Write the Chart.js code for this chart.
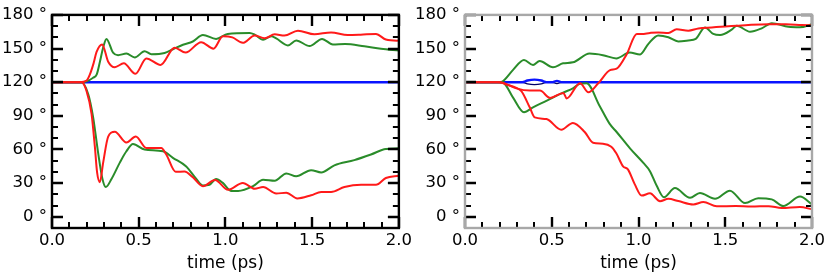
<!DOCTYPE html>
<html>
<head>
<meta charset="utf-8">
<script src="https://cdn.jsdelivr.net/npm/chart.js@4.4.1/dist/chart.umd.min.js"></script>
<style>
  html, body { margin: 0; padding: 0; background: #fff; }
  #wrap { position: relative; width: 830px; height: 277px; overflow: hidden; }
  .panel { position: absolute; top: 0; width: 415px; height: 277px; }
</style>
</head>
<body>
<div id="wrap">
  <div class="panel" style="left:0"><canvas id="c1" width="415" height="277"></canvas></div>
  <div class="panel" style="left:415px"><canvas id="c2" width="415" height="277"></canvas></div>
</div>
<script>
// ---------- tick labels / tick positions ----------
const xLabelTicks = [0, 0.5, 1.0, 1.5, 2.0];
const xMinorTicks = [0.1, 0.2, 0.3, 0.4, 0.6, 0.7, 0.8, 0.9, 1.1, 1.2, 1.3, 1.4, 1.6, 1.7, 1.8, 1.9];
const yLabelTicks = [0, 30, 60, 90, 120, 150, 180];
const yMinorTicks = [-10, 10, 20, 40, 50, 70, 80, 100, 110, 130, 140, 160, 170];
const xTitle = 'time (ps)';

// ---------- left panel data ----------
const L_redUp_t = [0, 0.16, 0.20, 0.218, 0.24, 0.257, 0.289, 0.324, 0.362, 0.414, 0.481, 0.544, 0.626, 0.707, 0.77, 0.86, 0.931, 0.985, 1.04, 1.1, 1.169, 1.226, 1.284, 1.34, 1.418, 1.513, 1.609, 1.705, 1.78, 1.868, 1.925, 1.99, 2.0];
const L_redUp_v = [120, 120, 121.5, 126.7, 137, 147, 153.7, 138.3, 133.4, 136.8, 127.5, 141.2, 135.4, 150.8, 146.4, 155.7, 149.9, 161, 160, 155.1, 161.6, 159.2, 162.7, 161.6, 165.9, 162.7, 164.4, 162.1, 162.4, 163, 158, 157, 157.5];

const L_greenUp_t = [0, 0.18, 0.237, 0.258, 0.276, 0.295, 0.314, 0.352, 0.381, 0.429, 0.477, 0.534, 0.573, 0.649, 0.697, 0.755, 0.812, 0.87, 0.946, 1.013, 1.14, 1.169, 1.217, 1.264, 1.293, 1.36, 1.408, 1.485, 1.557, 1.619, 1.69, 1.801, 1.897, 2.0];
const L_greenUp_v = [120, 120, 124, 127, 138, 151, 158.6, 146.4, 144.1, 145.5, 142, 147.6, 145, 146.1, 149.4, 153.4, 156.3, 162.1, 158.6, 163, 163.9, 162.4, 157.8, 161, 159, 152.8, 157.2, 152.2, 158.6, 153.7, 154, 152, 149.9, 148.2];

const L_redDown_t = [0, 0.17, 0.199, 0.228, 0.247, 0.26, 0.276, 0.295, 0.324, 0.362, 0.429, 0.483, 0.544, 0.63, 0.659, 0.713, 0.764, 0.812, 0.87, 0.94, 1.015, 1.1, 1.169, 1.217, 1.293, 1.351, 1.414, 1.494, 1.552, 1.609, 1.686, 1.782, 1.868, 1.925, 2.0];
const L_redDown_v = [120, 120, 112.2, 91.8, 62.7, 39.5, 30.8, 48.3, 71.5, 75.8, 66.2, 71.5, 61.3, 61.3, 55.5, 40.1, 40.4, 35.2, 27.3, 32.8, 24.1, 30.2, 25, 26.5, 20.7, 21.5, 16.3, 19.2, 22.1, 22.1, 26.5, 28.5, 28.5, 34.6, 36.6];

const L_greenDown_t = [0, 0.17, 0.209, 0.237, 0.266, 0.291, 0.31, 0.343, 0.391, 0.429, 0.467, 0.534, 0.64, 0.697, 0.774, 0.832, 0.87, 0.908, 0.946, 0.985, 1.034, 1.073, 1.159, 1.217, 1.284, 1.351, 1.408, 1.494, 1.552, 1.628, 1.743, 1.839, 1.925, 2.0];
const L_greenDown_v = [120, 120, 109.3, 88.9, 57, 33.7, 26.5, 33.7, 48.3, 58.4, 64.8, 59.9, 58.4, 52.6, 44.8, 33.7, 27.9, 28.5, 33.7, 30.2, 23, 23, 27.3, 33.1, 32.2, 38.7, 36.1, 41.6, 39.5, 45.9, 50.5, 55.5, 60.5, 61];

const L_blue_t = [0, 2.0];
const L_blue_v = [120, 120];

// ---------- right panel data ----------
const R_redUp_t = [0, 0.19, 0.219, 0.296, 0.373, 0.432, 0.49, 0.567, 0.586, 0.663, 0.711, 0.768, 0.836, 0.874, 0.932, 0.99, 1.018, 1.066, 1.114, 1.172, 1.22, 1.287, 1.345, 1.422, 1.499, 1.566, 1.633, 1.748, 1.85, 1.941, 2.0];
const R_redUp_v = [120, 120, 119.4, 114.5, 112.5, 112.5, 106, 110.4, 105.5, 119.1, 111, 119, 130.7, 132, 145, 163, 163, 163.9, 164.4, 163.9, 167.3, 165.9, 167.9, 168.8, 169.7, 170.3, 171, 171.7, 171.7, 171, 170.8];

const R_redDown_t = [0, 0.2, 0.238, 0.296, 0.325, 0.373, 0.402, 0.469, 0.555, 0.622, 0.69, 0.738, 0.795, 0.843, 0.872, 0.911, 0.939, 0.978, 1.018, 1.066, 1.124, 1.172, 1.23, 1.316, 1.374, 1.451, 1.56, 1.65, 1.75, 1.825, 1.93, 2.0];
const R_redDown_v = [120, 120, 118, 115, 112, 97.6, 88.6, 87.2, 77.6, 83.7, 75.6, 66, 65.2, 62.5, 56.6, 45, 42.2, 29.1, 18.9, 20.9, 13.9, 16, 14, 11, 13.1, 9.3, 9.6, 9.2, 9.5, 7.8, 8.7, 6.7];

const R_greenUp_t = [0, 0.2, 0.215, 0.277, 0.34, 0.392, 0.43, 0.507, 0.565, 0.622, 0.718, 0.795, 0.872, 0.949, 1.009, 1.057, 1.114, 1.172, 1.229, 1.287, 1.33, 1.383, 1.431, 1.47, 1.537, 1.566, 1.643, 1.71, 1.768, 1.864, 1.93, 2.0];
const R_greenUp_v = [120, 120, 120.5, 131, 139.8, 135.4, 138.9, 133.3, 136.8, 137.7, 145.5, 144.1, 141.2, 146.4, 144.7, 154.2, 161.6, 160.1, 156.3, 157.2, 158.6, 168.8, 163, 162, 166.8, 170.3, 165, 168, 172.6, 169.4, 169, 171.7];

const R_greenDown_t = [0, 0.2, 0.221, 0.277, 0.34, 0.392, 0.469, 0.565, 0.622, 0.661, 0.701, 0.776, 0.834, 0.874, 0.951, 1.028, 1.066, 1.105, 1.147, 1.21, 1.297, 1.354, 1.441, 1.527, 1.614, 1.69, 1.768, 1.835, 1.931, 2.0];
const R_greenDown_v = [120, 120, 119.5, 106.3, 93.3, 97.6, 103.4, 110.7, 114.5, 118.5, 119, 98.8, 82.8, 75.6, 61, 48, 40.7, 27.6, 17.4, 25.6, 16.9, 21.2, 16, 23.3, 12.2, 16.6, 15.5, 9.6, 18, 11];

const R_blue_t = [0, 0.33, 0.36, 0.40, 0.44, 0.47, 0.5, 0.53, 0.56, 0.6, 2.0];
const R_blue_v = [120, 120, 121.5, 122.3, 121.5, 120, 120, 121.2, 120, 120, 120];
const R_navy_t = [0, 0.33, 0.36, 0.40, 0.44, 0.47, 0.5, 0.53, 0.56, 0.6, 2.0];
const R_navy_v = [120, 120, 118.5, 117.8, 118.5, 120, 120, 118.8, 120, 120, 120];

// ---------- helpers ----------
const RED = '#ff1a1a', GREEN = '#2a8c2a', BLUE = '#0a14ff', NAVY = '#000066';
function pts(t, v) { return t.map((x, i) => ({ x: x, y: v[i] })); }
function ds(t, v, color, w) {
  return { data: pts(t, v), borderColor: color, borderWidth: w, pointRadius: 0,
           fill: false, cubicInterpolationMode: 'monotone' };
}

Chart.defaults.font.family = "'DejaVu Sans', sans-serif";
Chart.defaults.color = '#000';

function framePlugin(frameColor) {
  return {
    id: 'frameTicks',
    afterDatasetsDraw(chart) {
      const { ctx, chartArea: a, scales } = chart;
      const x = scales.x, y = scales.y;
      ctx.save();
      ctx.strokeStyle = '#000';
      ctx.lineCap = 'butt';
      const tick = (vals, len, w) => {
        ctx.lineWidth = w;
        ctx.beginPath();
        vals.forEach(v => {
          const px = Math.round(x.getPixelForValue(v));
          ctx.moveTo(px, a.bottom); ctx.lineTo(px, a.bottom - len);
          ctx.moveTo(px, a.top); ctx.lineTo(px, a.top + len);
        });
        ctx.stroke();
      };
      const ytick = (vals, len, w) => {
        ctx.lineWidth = w;
        ctx.beginPath();
        vals.forEach(v => {
          const py = Math.round(y.getPixelForValue(v));
          ctx.moveTo(a.left, py); ctx.lineTo(a.left + len, py);
          ctx.moveTo(a.right, py); ctx.lineTo(a.right - len, py);
        });
        ctx.stroke();
      };
      tick(xMinorTicks, 6, 2);
      tick(xLabelTicks, 11, 2.4);
      ytick(yMinorTicks, 6, 2);
      ytick(yLabelTicks, 11, 2.4);
      ctx.strokeStyle = frameColor;
      ctx.lineWidth = 2.4;
      ctx.strokeRect(a.left, a.top, a.right - a.left, a.bottom - a.top);
      ctx.restore();
    }
  };
}

function makeChart(id, datasets, yWidth, rightPad, frameColor) {
  return new Chart(document.getElementById(id), {
    type: 'line',
    data: { datasets: datasets },
    options: {
      responsive: false,
      animation: false,
      events: [],
      layout: { padding: { left: 0, right: rightPad, top: 11, bottom: 0 } },
      plugins: { legend: { display: false }, tooltip: { enabled: false } },
      scales: {
        x: {
          type: 'linear', min: 0, max: 2,
          grid: { display: false, drawTicks: false },
          border: { display: false },
          afterFit: s => { s.height = 49; },
          afterBuildTicks: s => { s.ticks = xLabelTicks.map(v => ({ value: v })); },
          ticks: { padding: 3, maxRotation: 0, autoSkip: false, font: { size: 16.5 },
                   callback: v => Number(v).toFixed(1) },
          title: { display: true, text: xTitle, font: { size: 17 }, padding: { top: 0, bottom: 3 } }
        },
        y: {
          type: 'linear', min: -10, max: 180,
          grid: { display: false, drawTicks: false },
          border: { display: false },
          afterFit: s => { s.width = yWidth; },
          afterBuildTicks: s => { s.ticks = yLabelTicks.map(v => ({ value: v })); },
          ticks: { padding: 5, autoSkip: false, font: { size: 16.5 },
                   callback: v => v + ' °' }
        }
      }
    },
    plugins: [framePlugin(frameColor)]
  });
}

makeChart('c1', [
  ds(L_redUp_t, L_redUp_v, RED, 2),
  ds(L_redDown_t, L_redDown_v, RED, 2),
  ds(L_greenUp_t, L_greenUp_v, GREEN, 2),
  ds(L_greenDown_t, L_greenDown_v, GREEN, 2),
  ds(L_blue_t, L_blue_v, BLUE, 2.6)
], 52, 15, '#000');

makeChart('c2', [
  ds(R_redUp_t, R_redUp_v, RED, 2),
  ds(R_redDown_t, R_redDown_v, RED, 2),
  ds(R_greenUp_t, R_greenUp_v, GREEN, 2),
  ds(R_greenDown_t, R_greenDown_v, GREEN, 2),
  ds(R_blue_t, R_blue_v, BLUE, 2.4),
  ds(R_navy_t, R_navy_v, NAVY, 1.4)
], 50, 18, '#a8a8a8');
</script>
</body>
</html>
